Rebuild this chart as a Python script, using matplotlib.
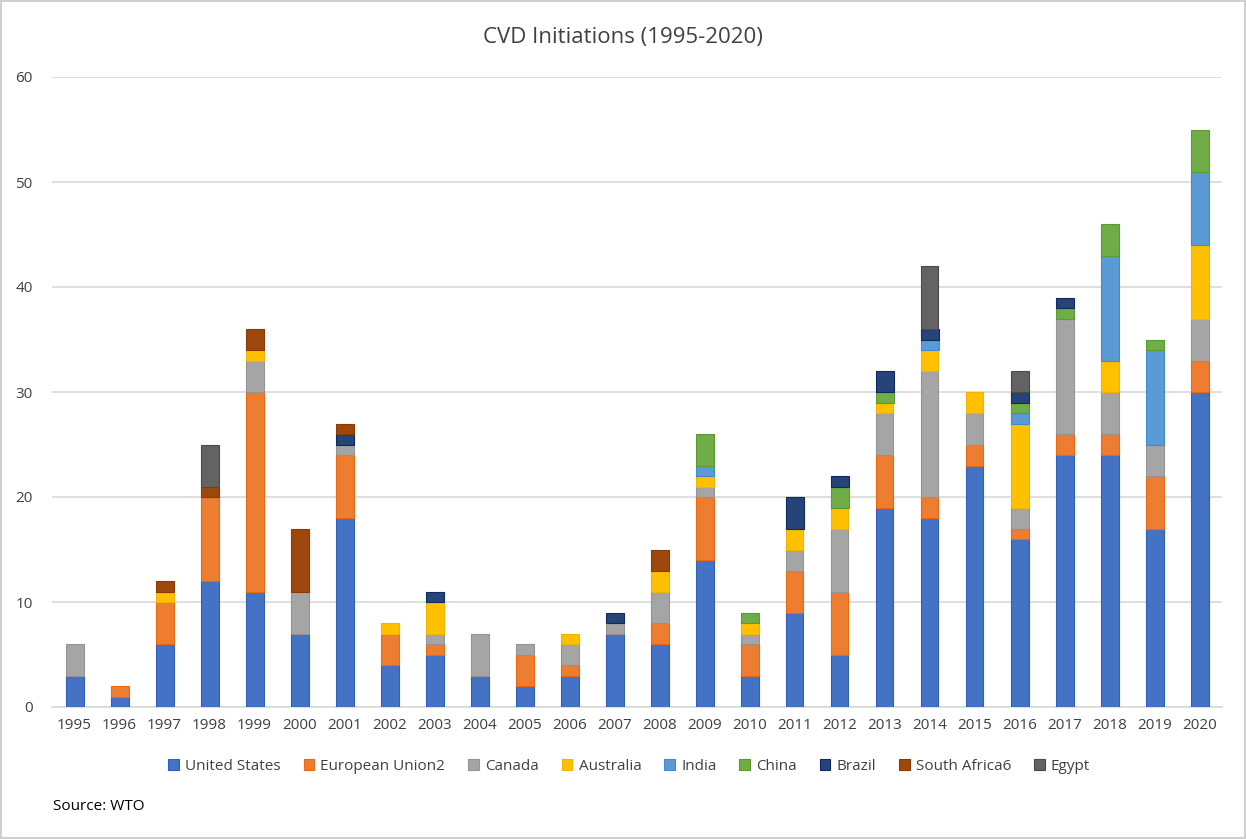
import matplotlib
matplotlib.use("Agg")
import matplotlib.pyplot as plt
import numpy as np

years = [str(y) for y in range(1995, 2021)]
series_names = ["United States", "European Union2", "Canada", "Australia", "India",
                "China", "Brazil", "South Africa6", "Egypt"]

united_states = [3, 1, 6, 12, 11, 7, 18, 4, 5, 3, 2, 3, 7, 6, 14, 3, 9, 5, 19, 18, 23, 16, 24, 24, 17, 30]
european_union = [0, 1, 4, 8, 19, 0, 6, 3, 1, 0, 3, 1, 0, 2, 6, 3, 4, 6, 5, 2, 2, 1, 2, 2, 5, 3]
canada = [3, 0, 0, 0, 3, 4, 1, 0, 1, 4, 1, 2, 1, 3, 1, 1, 2, 6, 4, 12, 3, 2, 11, 4, 3, 4]
australia = [0, 0, 1, 0, 1, 0, 0, 1, 3, 0, 0, 1, 0, 2, 1, 1, 2, 2, 1, 2, 2, 8, 0, 3, 0, 7]
india = [0, 0, 0, 0, 0, 0, 0, 0, 0, 0, 0, 0, 0, 0, 1, 0, 0, 0, 0, 1, 0, 1, 0, 10, 9, 7]
china = [0, 0, 0, 0, 0, 0, 0, 0, 0, 0, 0, 0, 0, 0, 3, 1, 0, 2, 1, 0, 0, 1, 1, 3, 1, 4]
brazil = [0, 0, 0, 0, 0, 0, 1, 0, 1, 0, 0, 0, 1, 0, 0, 0, 3, 1, 2, 1, 0, 1, 1, 0, 0, 0]
south_africa = [0, 0, 1, 1, 2, 6, 1, 0, 0, 0, 0, 0, 0, 2, 0, 0, 0, 0, 0, 0, 0, 0, 0, 0, 0, 0]
egypt = [0, 0, 0, 4, 0, 0, 0, 0, 0, 0, 0, 0, 0, 0, 0, 0, 0, 0, 0, 6, 0, 2, 0, 0, 0, 0]

data = [united_states, european_union, canada, australia, india, china, brazil, south_africa, egypt]
colors = ["#4472C4", "#ED7D31", "#A5A5A5", "#FFC000", "#5B9BD5", "#70AD47", "#264478", "#9E480E", "#636363"]
edges = ["#2F5FB8", "#E8690F", "#939393", "#F0B400", "#3F8AD0", "#5A9A32", "#0F2A60", "#8A3A05", "#4A4A4A"]

plt.rcParams['font.family'] = ['Open Sans', 'DejaVu Sans']

fig = plt.figure(figsize=(12.46, 8.39), dpi=100, edgecolor="#D0D0D0", linewidth=1.5)
ax = fig.add_axes([52/1246, 1-707/839, (1222-52)/1246, (707-77)/839])

x = np.arange(len(years))
bottom = np.zeros(len(years))
for name, vals, c, ec in zip(series_names, data, colors, edges):
    v = np.array(vals, dtype=float)
    nz = v > 0
    ax.bar(x[nz], v[nz], width=0.4, bottom=bottom[nz], color=c, edgecolor=ec, linewidth=0.8,
           label=name, zorder=3)
    bottom += v

ax.set_xlim(-0.5, len(years) - 0.5)
ax.set_ylim(0, 60)
ax.set_yticks(range(0, 61, 10))
ax.set_xticks(x)
ax.set_xticklabels(years)
ax.yaxis.grid(True, color="#D9D9D9", linewidth=1.2, zorder=0)
ax.set_axisbelow(True)
for s in ["top", "right", "left"]:
    ax.spines[s].set_visible(False)
ax.spines["bottom"].set_color("#D9D9D9")
ax.spines["bottom"].set_linewidth(1.2)
ax.tick_params(axis="both", length=0, labelsize=11, colors="#404040", pad=8)
ax.tick_params(axis="y", pad=14)

fig.text(0.5, 1-38/839, "CVD Initiations (1995-2020)", ha="center", va="center",
         fontsize=16, color="#404040")

handles, labels = ax.get_legend_handles_labels()
leg = fig.legend(handles, labels, loc="center", bbox_to_anchor=(0.505, 1-766/839),
                 ncol=9, frameon=False, fontsize=11, handlelength=0.7, handleheight=0.7,
                 handletextpad=0.4, columnspacing=1.5, labelcolor="#404040")

fig.text(53/1246, 1-806/839, "Source: WTO", ha="left", va="center", fontsize=11, color="#000000")

fig.savefig("out.png", dpi=100, edgecolor=fig.get_edgecolor())
